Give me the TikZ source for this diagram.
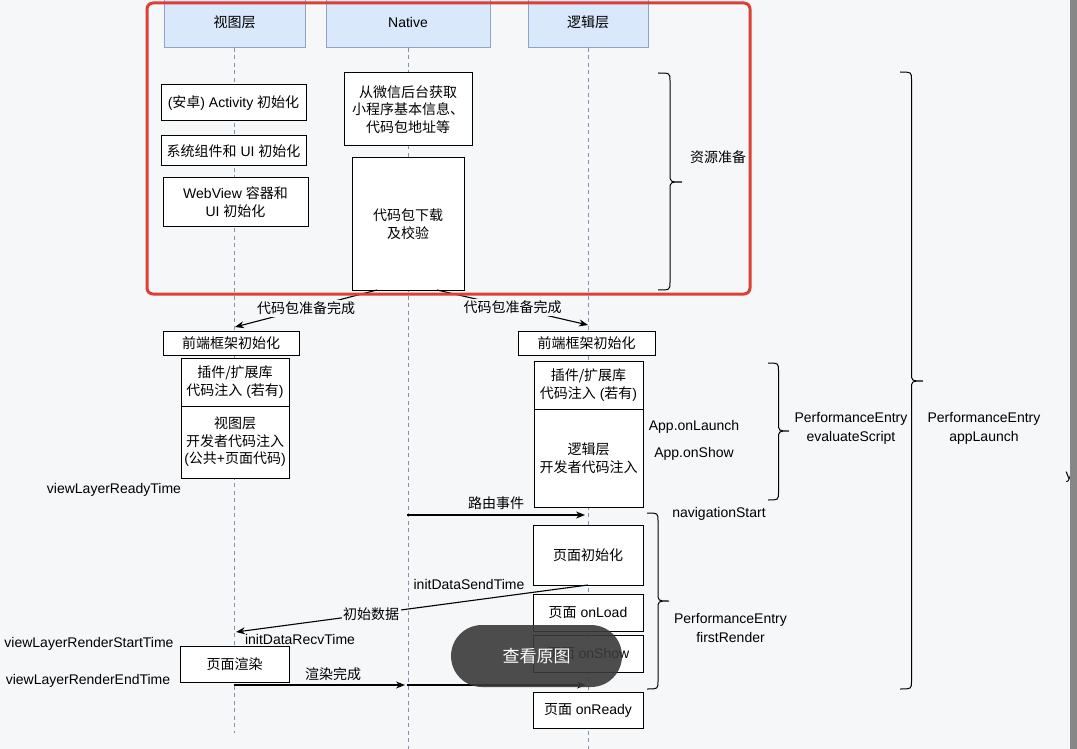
\documentclass[tikz,border=0pt]{standalone}
\usepackage{fontspec}
\setmainfont{Liberation Sans}
\newfontfamily\zhf{Noto Sans CJK SC}
\usetikzlibrary{arrows.meta}
\definecolor{bgc}{HTML}{F6F7F9}
\definecolor{hdfill}{HTML}{DAE8FC}
\definecolor{hdline}{HTML}{8EA5C8}
\definecolor{lifec}{HTML}{7F92AE}
\definecolor{redc}{HTML}{DC3F35}
\definecolor{pillc}{HTML}{3A3A3A}
\definecolor{stripc}{HTML}{878787}
\newcommand\zh[1]{{\zhf #1}}
\newcommand\fs{\fontsize{14pt}{17.5pt}\selectfont}
\newcommand\mybrace[5]{%
  \draw[brace] (#1,#2) .. controls ({#1+#5/2},#2) .. ({#1+#5/2},{#2+8})
    -- ({#1+#5/2},{#4-8}) .. controls ({#1+#5/2},#4) .. ({#1+#5},#4)
    .. controls ({#1+#5/2},#4) .. ({#1+#5/2},{#4+8})
    -- ({#1+#5/2},{#3-8}) .. controls ({#1+#5/2},#3) .. (#1,#3);}
\begin{document}
\begin{tikzpicture}[x=1pt,y=-1pt,
  every node/.style={font=\fs, inner sep=0pt, outer sep=0pt},
  box/.style={draw=black, fill=white, line width=1pt, align=center},
  hdr/.style={draw=hdline, fill=hdfill, line width=1pt},
  life/.style={draw=lifec, line width=0.9pt, dash pattern=on 4pt off 3.5pt},
  arr/.style={line width=1.1pt, -{Stealth[length=9pt,width=7pt]}},
  lbl/.style={fill=bgc, inner sep=1.5pt},
  txt/.style={align=center, font=\fontsize{14pt}{19pt}\selectfont},
  brace/.style={line width=1pt}]
\useasboundingbox (0,0) rectangle (1077,749);
\clip (0,0) rectangle (1077,749);
\fill[bgc] (0,0) rectangle (1077,749);

% headers
\node[hdr, minimum width=141pt, minimum height=52pt] (h1) at (234.5,22) {\zh{视图层}};
\node[hdr, minimum width=164pt, minimum height=52pt] (h2) at (408,22) {Native};
\node[hdr, minimum width=120pt, minimum height=52pt] (h3) at (588,22) {\zh{逻辑层}};

% lifelines
\coordinate (v-end) at (234,733);
\coordinate (n-end) at (408,749);
\coordinate (l-end) at (588,749);
\draw[life] (h1.south -| v-end) -- (v-end);
\draw[life] (h2.south) -- (n-end);
\draw[life] (h3.south) -- (l-end);

% boxes
\node[box, minimum width=145pt, minimum height=36pt] (act) at (233.5,103) {(\zh{安卓}) Activity \zh{初始化}};
\node[box, minimum width=145pt, minimum height=30pt] (sys) at (233.5,151) {\zh{系统组件和} UI \zh{初始化}};
\node[box, minimum width=145pt, minimum height=48pt] (wv) at (235.5,202) {WebView \zh{容器和}\\UI \zh{初始化}};
\node[box, minimum width=128pt, minimum height=73pt] (fetch) at (408,109.5) {\zh{从微信后台获取}\\\zh{小程序基本信息、}\\\zh{代码包地址等}};
\node[box, minimum width=112pt, minimum height=132pt] (dl) at (408,224) {\zh{代码包下载}\\\zh{及校验}};

\node[box, minimum width=136pt, minimum height=24pt] (fel) at (231,343) {\zh{前端框架初始化}};
\node[box, minimum width=137pt, minimum height=24pt] (fer) at (586.5,343) {\zh{前端框架初始化}};
\node[box, minimum width=108pt, minimum height=48pt] (plugl) at (235,382) {\zh{插件/扩展库}\\\zh{代码注入} (\zh{若有})};
\node[box, minimum width=108pt, minimum height=72pt] (devl) at (235,442) {\zh{视图层}\\\zh{开发者代码注入}\\(\zh{公共}+\zh{页面代码})};
\node[box, minimum width=109pt, minimum height=48pt] (plugr) at (588.5,385) {\zh{插件/扩展库}\\\zh{代码注入} (\zh{若有})};
\node[box, minimum width=109pt, minimum height=98pt] (devr) at (588.5,458) {\zh{逻辑层}\\\zh{开发者代码注入}};

\node[box, minimum width=110pt, minimum height=60pt] (pinit) at (588,555) {\zh{页面初始化}};
\node[box, minimum width=110pt, minimum height=37pt] (onload) at (588,612.5) {\zh{页面} onLoad};
\node[box, minimum width=110pt, minimum height=37pt] (onshow) at (588,653.5) {\zh{页面} onShow};
\node[box, minimum width=110pt, minimum height=36pt] (onready) at (588,710) {\zh{页面} onReady};
\node[box, minimum width=109pt, minimum height=36pt] (render) at (234.5,664) {\zh{页面渲染}};

% connector end points on lifelines
\coordinate (v1) at (235,327);
\coordinate (l1) at (588,325);
\coordinate (nroute) at (407,515);
\coordinate (lroute) at (585,515);
\coordinate (vinit) at (236,632);
\coordinate (vrend) at (234,685);
\coordinate (nrend) at (405,685);
\coordinate (nrend2) at (407,685);
\coordinate (lrend) at (586,685);

% connectors
\draw[arr] ([xshift=-31pt]dl.south) -- node[lbl, pos=0.5] (lb1) {\zh{代码包准备完成}} (v1);
\draw[arr] ([xshift=29pt]dl.south) -- node[lbl, pos=0.5] (lb2) {\zh{代码包准备完成}} (l1);
\draw[arr] (nroute) -- node[above=5pt, pos=0.5] (lb3) {\zh{路由事件}} (lroute);
\draw[arr] (pinit.south) -- node[lbl, pos=0.616] (lb4) {\zh{初始数据}} (vinit);
\draw[arr] (vrend) -- node[above=4pt, pos=0.58] (lb5) {\zh{渲染完成}} (nrend);
\draw[arr] (nrend2) -- (lrend);

% braces
\mybrace{658}{73}{290}{182}{24}
\mybrace{768}{363}{500}{431}{21}
\mybrace{900}{72}{689}{381}{23}
\mybrace{647}{513}{689}{601}{22}

% texts
\node (t-res) at (718,157) {\zh{资源准备}};
\node (t-onl) at (694,427) {App.onLaunch};
\node (t-ons) at (694,454) {App.onShow};
\node[txt] (t-eval) at (851,428.5) {PerformanceEntry\\evaluateScript};
\node[txt] (t-app) at (984,428.5) {PerformanceEntry\\appLaunch};
\node (t-nav) at (719,514) {navigationStart};
\node[txt] (t-fr) at (730.5,627.5) {PerformanceEntry\\firstRender};
\node (t-vrt) at (114,490) {viewLayerReadyTime};
\node (t-ids) at (469,584) {initDataSendTime};
\node (t-idr) at (300,639) {initDataRecvTime};
\node (t-vrs) at (89,644) {viewLayerRenderStartTime};
\node (t-vre) at (88,681) {viewLayerRenderEndTime};
\node (t-y) at (1069,477) {y};

% red frame
\draw[redc, line width=3pt, rounded corners=6pt] (147,3) rectangle (750,294);

% overlay button
\node[fill=pillc, fill opacity=0.9, text opacity=1, rounded corners=31pt,
  minimum width=171pt, minimum height=62pt, text=white,
  font={\fontsize{17pt}{20pt}\selectfont\zhf}] (pill) at (536.5,656) {查看原图};

% right strip
\fill[stripc] (1070,0) rectangle (1077,749);
\end{tikzpicture}
\end{document}
